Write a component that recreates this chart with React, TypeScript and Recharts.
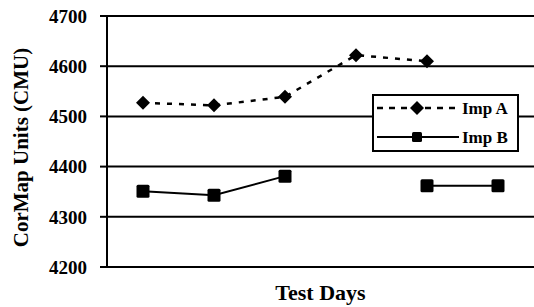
import { CartesianGrid, Label, Legend, Line, LineChart, XAxis, YAxis } from "recharts";

const days = ["Day 1", "Day 2", "Day 3", "Day 4", "Day 5", "Day 6"];
const impA = [4527, 4522, 4539, 4622, 4610, null];
const impB = [4351, 4343, 4381, null, 4362, 4362];
const yTicks = [4200, 4300, 4400, 4500, 4600, 4700];

const data = days.map((day, i) => ({ day, impA: impA[i], impB: impB[i] }));

const FONT = "Liberation Serif";

const Diamond = (props: any) => {
	const { cx, cy, size = 7 } = props;
	if (cx == null || cy == null || props.value == null) return null;
	const r = size;
	return (
		<path
			d={`M${cx},${cy - r} L${cx + r},${cy} L${cx},${cy + r} L${cx - r},${cy} Z`}
			fill="#000"
		/>
	);
};

const Square = (props: any) => {
	const { cx, cy, size = 13 } = props;
	if (cx == null || cy == null || props.value == null) return null;
	return <rect x={cx - size / 2} y={cy - size / 2} width={size} height={size} rx={1.5} fill="#000" />;
};

const txt = { fontFamily: FONT, fontWeight: "bold" as const };

function LegendBox() {
	return (
		<svg width={147} height={58} style={{ display: "block" }}>
			<rect x={1} y={1} width={145} height={56} fill="#fff" stroke="#000" strokeWidth={2} />
			<line x1={5} y1={14} x2={87} y2={14} stroke="#000" strokeWidth={2.5} strokeDasharray="6 6" />
			<Diamond cx={45} cy={14} size={7} value={1} />
			<text x={90} y={20} fontFamily={FONT} style={{ ...txt, fontSize: 17 }}>
				Imp A
			</text>
			<line x1={5} y1={43} x2={87} y2={43} stroke="#000" strokeWidth={2} />
			<Square cx={45} cy={43} size={10} value={1} />
			<text x={90} y={49} fontFamily={FONT} style={{ ...txt, fontSize: 17 }}>
				Imp B
			</text>
		</svg>
	);
}

export default function App() {
	return (
		<div style={{ position: "absolute", left: 0, top: 0, width: 534, height: 307, background: "#fff", fontFamily: FONT }}>
			<LineChart width={534} height={307} data={data} margin={{ top: 16, right: 0, bottom: 0, left: 0 }}>
				<CartesianGrid vertical={false} stroke="#000" strokeWidth={2} />
				<XAxis
					dataKey="day"
					height={40}
					tick={false}
					tickLine={false}
					axisLine={{ stroke: "#000", strokeWidth: 2 }}
					padding={{ left: 36, right: 36 }}
				>
					<Label
						content={(p: any) => {
							const vb = p.viewBox;
							return (
								<text
									x={vb.x + vb.width / 2}
									y={vb.y + 33}
									textAnchor="middle"
									fontFamily={FONT}
									style={{ ...txt, fontSize: 22 }}
								>
									Test Days
								</text>
							);
						}}
					/>
				</XAxis>
				<YAxis
					width={107}
					domain={[4200, 4700]}
					ticks={yTicks}
					interval={0}
					tickSize={7}
					tickMargin={13}
					tickLine={{ stroke: "#000", strokeWidth: 2 }}
					axisLine={{ stroke: "#000", strokeWidth: 2 }}
					tick={{ fill: "#000", fontSize: 19, fontFamily: FONT, fontWeight: "bold", style: { ...txt } }}
				>
					<Label
						content={(p: any) => {
							const vb = p.viewBox;
							const x = vb.x + 28;
							const y = vb.y + vb.height / 2 + 6;
							return (
								<text
									x={x}
									y={y}
									transform={`rotate(-90, ${x}, ${y})`}
									textAnchor="middle"
									fontFamily={FONT}
									style={{ ...txt, fontSize: 21 }}
								>
									CorMap Units (CMU)
								</text>
							);
						}}
					/>
				</YAxis>
				<Legend
					layout="vertical"
					align="center"
					verticalAlign="middle"
					content={() => <LegendBox />}
					wrapperStyle={{ position: "absolute", left: 372, top: 94, width: 147, height: 58 }}
				/>
				<Line
					dataKey="impA"
					name="Imp A"
					stroke="#000"
					strokeWidth={2.5}
					strokeDasharray="5 7"
					dot={<Diamond size={7} />}
					activeDot={false}
					isAnimationActive={false}
				/>
				<Line
					dataKey="impB"
					name="Imp B"
					stroke="#000"
					strokeWidth={2}
					dot={<Square size={13} />}
					activeDot={false}
					isAnimationActive={false}
				/>
			</LineChart>
		</div>
	);
}
